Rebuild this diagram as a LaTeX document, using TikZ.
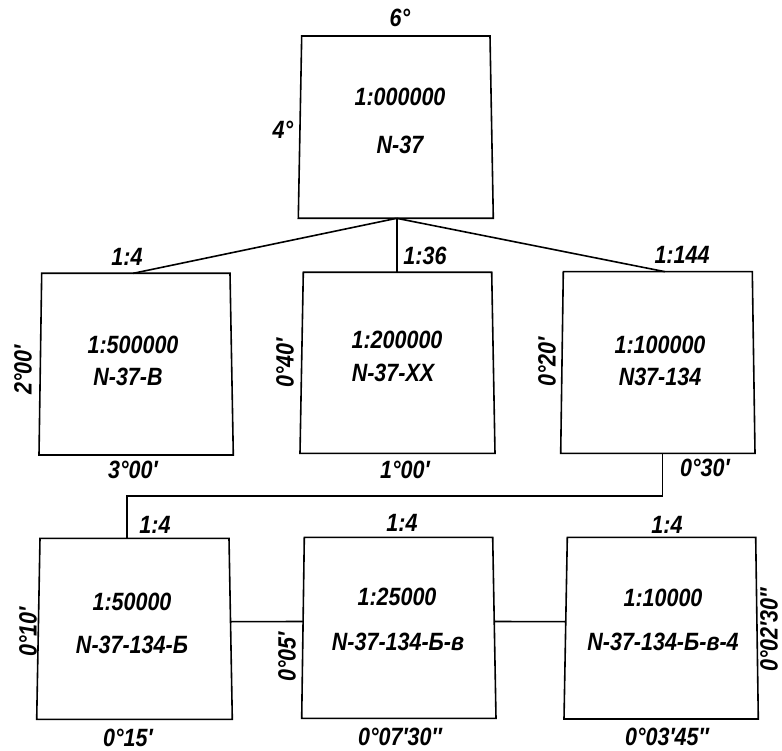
\documentclass[tikz,border=0pt]{standalone}
\usepackage{fontspec}
\newfontfamily\lab[FakeStretch=0.86]{Liberation Sans}
\begin{document}
\begin{tikzpicture}[x=1pt,y=-1pt,
  box/.style={draw=black,line width=1.6pt,line join=miter},
  conn/.style={draw=black,line width=1.6pt},
  txt/.style={inner sep=0pt,font=\lab\bfseries\itshape\fontsize{25}{28}\selectfont},
  rot/.style={txt,rotate=90}]
\useasboundingbox (0,0) rectangle (782,751);
% top box
\coordinate (T1) at (301.7,36); \coordinate (T2) at (490,36);
\coordinate (T3) at (493.3,218.3); \coordinate (T4) at (298.3,218.3);
\draw[box] (T1)--(T2)--(T3)--(T4)--cycle;
\coordinate (Tb) at (396.7,218.3);
% row 2
\coordinate (A1) at (41.7,273.3); \coordinate (A2) at (230,273.3);
\coordinate (A3) at (233.3,455); \coordinate (A4) at (39,455);
\draw[box] (A1)--(A2)--(A3)--(A4)--cycle;
\coordinate (At) at (133.3,273.3);
\coordinate (B1) at (303.3,272.3); \coordinate (B2) at (491.7,272.3);
\coordinate (B3) at (495,453.3); \coordinate (B4) at (300,453.3);
\draw[box] (B1)--(B2)--(B3)--(B4)--cycle;
\coordinate (Bt) at (396.7,272.3);
\coordinate (C1) at (563.3,271.7); \coordinate (C2) at (752.3,271.7);
\coordinate (C3) at (755,453.3); \coordinate (C4) at (560.7,453.3);
\draw[box] (C1)--(C2)--(C3)--(C4)--cycle;
\coordinate (Ct) at (665,271.7);
\coordinate (Cb) at (662.3,453.3);
% row 3
\coordinate (D1) at (40,538.3); \coordinate (D2) at (229,538.3);
\coordinate (D3) at (232.3,719.3); \coordinate (D4) at (36.7,719.3);
\draw[box] (D1)--(D2)--(D3)--(D4)--cycle;
\coordinate (Dt) at (126.7,538.3);
\coordinate (Dr) at (230.8,621.7);
\coordinate (E1) at (304.3,537.3); \coordinate (E2) at (492.7,537.3);
\coordinate (E3) at (496,718.3); \coordinate (E4) at (301.7,718.3);
\draw[box] (E1)--(E2)--(E3)--(E4)--cycle;
\coordinate (El) at (302.8,621.5);
\coordinate (Er) at (494.5,621.5);
\coordinate (F1) at (567.3,537.3); \coordinate (F2) at (755.7,537.3);
\coordinate (F3) at (758.3,719); \coordinate (F4) at (564,719);
\draw[box] (F1)--(F2)--(F3)--(F4)--cycle;
\coordinate (Fl) at (565.5,621.7);
% connectors
\draw[conn] (Tb) -- (At);
\draw[conn] (Tb) -- (Bt);
\draw[conn] (Tb) -- (Ct);
\coordinate (J1) at (662.3,496); \coordinate (J2) at (126.7,496);
\draw[conn] (Cb) -- (J1) -- (J2) -- (Dt);
\draw[conn] (Dr) -- (El);
\draw[conn] (Er) -- (Fl);
% texts top
\node[txt] (l6) at (400,18) {6°};
\node[txt] (l4) at (283,130) {4°};
\node[txt] (t1) at (400,97) {1:000000};
\node[txt] (t2) at (400,145) {N-37};
% row 2 labels
\node[txt] (r14a) at (127,257) {1:4};
\node[txt] (r136) at (425,256) {1:36};
\node[txt] (r144) at (682,255) {1:144};
\node[txt] (a1) at (133,345) {1:500000};
\node[txt] (a2) at (128,377) {N-37-B};
\node[rot] (a3) at (23,370) {2°00′};
\node[txt] (a4) at (133,470) {3°00′};
\node[txt] (b1) at (397,340) {1:200000};
\node[txt] (b2) at (393,373) {N-37-XX};
\node[rot] (b3) at (285,363) {0°40′};
\node[txt] (b4) at (405,470) {1°00′};
\node[txt] (c1) at (660,345) {1:100000};
\node[txt] (c2) at (660,377) {N37-134};
\node[rot] (c3) at (547,362) {0°20′};
\node[txt] (c4) at (705,468) {0°30′};
% row 3
\node[txt] (d0) at (155,525) {1:4};
\node[txt] (e0) at (402,523) {1:4};
\node[txt] (f0) at (667,525) {1:4};
\node[txt] (d1) at (132,602) {1:50000};
\node[txt] (d2) at (132,645) {N-37-134-Б};
\node[rot] (d3) at (28,632) {0°10′};
\node[txt] (d4) at (128,738) {0°15′};
\node[txt] (e1) at (397,597) {1:25000};
\node[txt] (e2) at (398,642) {N-37-134-Б-в};
\node[rot] (e3) at (287,657) {0°05′};
\node[txt] (e4) at (400,737) {0°07′30″};
\node[txt] (f1) at (663,598) {1:10000};
\node[txt] (f2) at (663,642) {N-37-134-Б-в-4};
\node[rot] (f3) at (769,630) {0°02′30″};
\node[txt] (f4) at (667,737) {0°03′45″};
\end{tikzpicture}
\end{document}
